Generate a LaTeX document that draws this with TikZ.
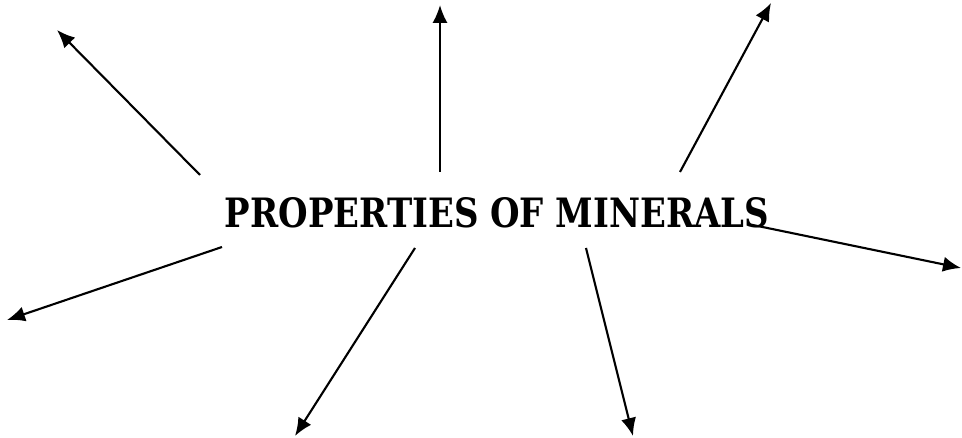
\documentclass[tikz,border=0pt]{standalone}
\usepackage{fontspec}
\newfontfamily\titlefont{DejaVu Serif}
\usepackage{tikz}
\usetikzlibrary{arrows.meta}

\begin{document}
\begin{tikzpicture}[>={Latex[length=4.5mm,width=3.8mm]},x=0.025cm,y=-0.025cm,
  spoke/.style={->,line width=1.5pt}]
  \useasboundingbox (0,0) rectangle (962,438);
  % title
  \node[inner sep=0pt] (title) at (497,213) {\resizebox{13.6cm}{0.75cm}{\titlefont\bfseries PROPERTIES OF MINERALS}};
  % start and end points of the spokes
  \coordinate (s1) at (200,175); \coordinate (e1) at (57,30);
  \coordinate (s2) at (440,172); \coordinate (e2) at (440,5);
  \coordinate (s3) at (680,172); \coordinate (e3) at (771,3);
  \coordinate (s4) at (748,224); \coordinate (e4) at (961,268);
  \coordinate (s5) at (222,247); \coordinate (e5) at (7,320);
  \coordinate (s6) at (415,248); \coordinate (e6) at (295,436);
  \coordinate (s7) at (586,248); \coordinate (e7) at (633,436);
  \foreach \i in {1,...,7}{
    \draw[spoke] (s\i) -- (e\i);
  }
\end{tikzpicture}
\end{document}
